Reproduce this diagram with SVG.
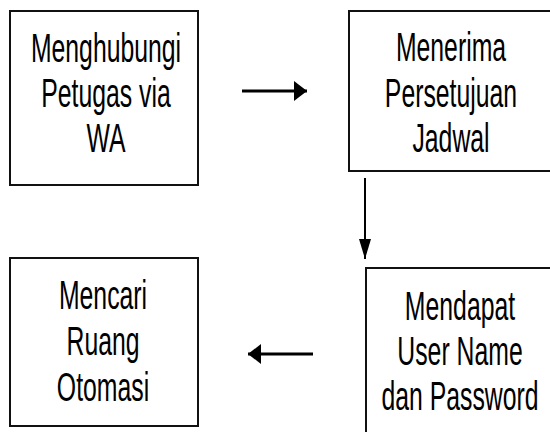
<svg xmlns="http://www.w3.org/2000/svg" width="550" height="432" viewBox="0 0 550 432">
<defs>
<style>
.box{fill:#fff;stroke:#111;stroke-width:2}
.lbl{font-family:"Liberation Sans",Arial,sans-serif;font-size:40px;fill:#000;text-anchor:middle}
.ln{stroke:#000;fill:none}
</style>
<marker id="ah" viewBox="0 0 13 20" refX="13" refY="10" markerWidth="13" markerHeight="20" markerUnits="userSpaceOnUse" orient="auto">
<path d="M0,0 L13,10 L0,20 Z" fill="#000"/>
</marker>
<marker id="ahv" viewBox="0 0 20 12" refX="20" refY="6" markerWidth="20" markerHeight="12" markerUnits="userSpaceOnUse" orient="auto">
<path d="M0,0 L20,6 L0,12 Z" fill="#000"/>
</marker>
</defs>
<rect width="550" height="432" fill="#fff"/>
<g id="node-menghubungi">
<rect class="box" x="10" y="11" width="188" height="174"/>
<text class="lbl" transform="translate(106,0) scale(0.62,1)"><tspan x="0" y="62">Menghubungi</tspan><tspan x="0" y="107">Petugas via</tspan><tspan x="0" y="152">WA</tspan></text>
</g>
<g id="node-menerima">
<rect class="box" x="349" y="11" width="220" height="160"/>
<text class="lbl" transform="translate(451,0) scale(0.62,1)"><tspan x="0" y="61">Menerima</tspan><tspan x="0" y="107">Persetujuan</tspan><tspan x="0" y="152">Jadwal</tspan></text>
</g>
<g id="node-mendapat">
<rect class="box" x="366" y="268" width="220" height="200"/>
<text class="lbl" transform="translate(460,0) scale(0.62,1)"><tspan x="0" y="320">Mendapat</tspan><tspan x="0" y="365">User Name</tspan><tspan x="0" y="410">dan Password</tspan></text>
</g>
<g id="node-mencari">
<rect class="box" x="10" y="258" width="188" height="168"/>
<text class="lbl" transform="translate(103,0) scale(0.62,1)"><tspan x="0" y="309">Mencari</tspan><tspan x="0" y="355">Ruang</tspan><tspan x="0" y="401">Otomasi</tspan></text>
</g>
<g id="connectors">
<line class="ln" x1="242" y1="91" x2="307" y2="91" stroke-width="3" marker-end="url(#ah)"/>
<line class="ln" x1="365" y1="178" x2="365" y2="259" stroke-width="2" marker-end="url(#ahv)"/>
<line class="ln" x1="313" y1="354" x2="248" y2="354" stroke-width="3" marker-end="url(#ah)"/>
</g>
</svg>
